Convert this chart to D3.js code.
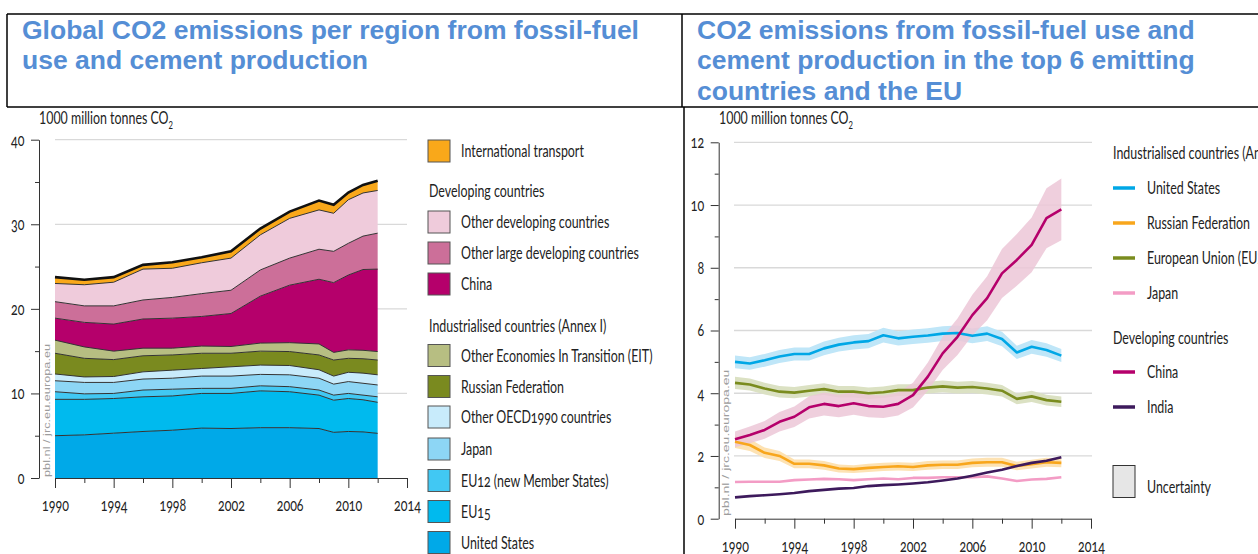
<!DOCTYPE html>
<html>
<head>
<meta charset="utf-8">
<script src="https://cdn.jsdelivr.net/npm/d3@7"></script>
<style>
body { margin: 0; background: #fff; }
svg text { font-family: Lato, "Open Sans", sans-serif; }
.num { font-variant-numeric: oldstyle-nums; }
</style>
</head>
<body>
<svg id="chart" width="1258" height="554"></svg>
<script>
// ---- left chart: stacked areas, 1000 million tonnes CO2 ----
var stackYears = [1990, 1992, 1994, 1996, 1998, 2000, 2002, 2004, 2006, 2008, 2009, 2010, 2011, 2012];
var stackKeys = ["United States", "EU15", "EU12 (new Member States)", "Japan", "Other OECD1990 countries",
    "Russian Federation", "Other Economies In Transition (EIT)", "China",
    "Other large developing countries", "Other developing countries", "International transport"];
var usArea       = [5.0, 5.1, 5.3, 5.5, 5.65, 5.9, 5.85, 5.95, 5.95, 5.85, 5.4, 5.5, 5.45, 5.28];
var eu15Area     = [4.3, 4.2, 4.1, 4.1, 4.05, 4.1, 4.15, 4.35, 4.25, 3.95, 3.8, 3.9, 3.8, 3.67];
var eu12Area     = [0.9, 0.65, 0.6, 0.8, 0.8, 0.6, 0.6, 0.6, 0.6, 0.6, 0.6, 0.6, 0.55, 0.65];
var japanArea    = [1.3, 1.35, 1.3, 1.3, 1.3, 1.45, 1.45, 1.35, 1.4, 1.4, 1.3, 1.4, 1.4, 1.4];
var oecdArea     = [0.8, 0.65, 0.7, 0.85, 0.95, 0.9, 1.1, 1.1, 1.1, 1.0, 0.95, 1.1, 1.2, 1.2];
var russiaArea   = [2.45, 2.2, 2.0, 1.9, 1.8, 1.8, 1.6, 1.65, 1.65, 1.75, 1.9, 1.65, 1.7, 1.75];
var eitArea      = [1.55, 1.35, 1.0, 0.9, 0.8, 0.85, 0.8, 0.95, 1.05, 1.3, 0.9, 1.0, 1.0, 1.0];
var chinaArea    = [2.6, 2.9, 3.2, 3.45, 3.55, 3.5, 3.9, 5.55, 6.8, 7.65, 8.25, 8.85, 9.55, 9.75];
var largeDevArea = [1.95, 1.95, 2.15, 2.25, 2.45, 2.7, 2.75, 3.1, 3.2, 3.55, 3.7, 3.75, 3.95, 4.25];
var otherDevArea = [2.15, 2.5, 2.8, 3.65, 3.45, 3.65, 3.8, 4.15, 4.7, 4.65, 4.5, 5.15, 5.1, 5.05];
var transportArea = [0.75, 0.6, 0.6, 0.5, 0.7, 0.65, 0.8, 0.75, 0.8, 1.1, 1.0, 0.85, 0.95, 1.15];
var stackSeries = [usArea, eu15Area, eu12Area, japanArea, oecdArea, russiaArea, eitArea,
    chinaArea, largeDevArea, otherDevArea, transportArea];
var stackColors = ["#00a9e8", "#00baee", "#41c8f3", "#8dd6f5", "#c8ebfb", "#7a8a1f",
    "#b7be82", "#b5006b", "#cc6f99", "#efcbdb", "#f9a81a"];

// ---- right chart: lines with uncertainty ----
var lineYears = [1990, 1991, 1992, 1993, 1994, 1995, 1996, 1997, 1998, 1999, 2000, 2001,
    2002, 2003, 2004, 2005, 2006, 2007, 2008, 2009, 2010, 2011, 2012];
var usLine     = [5.0, 4.95, 5.05, 5.17, 5.25, 5.25, 5.43, 5.55, 5.62, 5.66, 5.85, 5.75, 5.8, 5.84, 5.9, 5.92, 5.83, 5.9, 5.73, 5.3, 5.48, 5.38, 5.2];
var russiaLine = [2.45, 2.35, 2.1, 2.0, 1.75, 1.75, 1.7, 1.6, 1.58, 1.62, 1.65, 1.67, 1.65, 1.7, 1.72, 1.72, 1.78, 1.8, 1.8, 1.68, 1.74, 1.8, 1.78];
var euLine     = [4.33, 4.28, 4.15, 4.05, 4.02, 4.08, 4.13, 4.05, 4.05, 4.0, 4.03, 4.1, 4.1, 4.18, 4.22, 4.18, 4.2, 4.15, 4.08, 3.82, 3.9, 3.78, 3.73];
var japanLine  = [1.17, 1.18, 1.18, 1.18, 1.23, 1.25, 1.27, 1.26, 1.23, 1.26, 1.28, 1.26, 1.3, 1.3, 1.32, 1.32, 1.32, 1.35, 1.28, 1.2, 1.25, 1.27, 1.32];
var chinaLine  = [2.53, 2.67, 2.83, 3.09, 3.25, 3.55, 3.66, 3.59, 3.68, 3.59, 3.57, 3.66, 3.94, 4.53, 5.27, 5.8, 6.49, 7.03, 7.82, 8.25, 8.73, 9.58, 9.86];
var indiaLine  = [0.68, 0.72, 0.75, 0.78, 0.82, 0.88, 0.92, 0.96, 0.98, 1.04, 1.07, 1.09, 1.12, 1.16, 1.22, 1.28, 1.37, 1.47, 1.56, 1.68, 1.78, 1.85, 1.96];
var lineNames = ["United States", "Russian Federation", "European Union (EU27)", "Japan", "China", "India"];
var lineSeries = [usLine, russiaLine, euLine, japanLine, chinaLine, indiaLine];
var lineUncertainty = [0.04, 0.08, 0.045, 0, 0.1, 0];
var lineColors = ["#00a7e6", "#f8a61c", "#7a8c1e", "#f39cc5", "#b5006b", "#3d1a5c"];
var bandColors = ["#bfe6f8", "#fde2b3", "#dbe1c3", "none", "#ecc7d7", "none"];

var svg = d3.select("#chart");
var FS = 17, SX = 0.73;

function txt(g, x, y, s, anchor) {
    return g.append("text")
        .attr("transform", "translate(" + x + "," + y + ") scale(" + SX + ",1)")
        .attr("text-anchor", anchor || "start")
        .attr("font-size", FS)
        .attr("fill", "#222")
        .text(s);
}

function unitLabel(g, x, y) {
    var t = txt(g, x, y, "");
    t.append("tspan").text("1000 million tonnes CO");
    t.append("tspan").attr("font-size", 10.5).attr("dy", 5).text("2");
}

function watermark(g, x, y, size, sx) {
    g.append("text")
        .attr("transform", "translate(" + x + "," + y + ") rotate(-90) scale(" + sx + ",1)")
        .style("font-family", "'Liberation Sans', Arial, sans-serif")
        .attr("font-size", size)
        .attr("fill", "#9d9d9d")
        .text("pbl.nl / jrc.eu.europa.eu");
}

// style axis text so it gets the narrow look
function styleAxis(g, side) {
    g.select(".domain").attr("stroke", "#333");
    g.selectAll(".tick line").attr("stroke", "#333");
    g.selectAll(".tick text")
        .attr("class", "num")
        .attr("font-size", FS)
        .attr("fill", "#222")
        .attr("transform", "scale(" + SX + ",1)");
    if (side == "left") {
        g.selectAll(".tick text").attr("x", -14.5 / SX);
    } else {
        g.selectAll(".tick text").attr("y", 33).attr("dy", 0);
    }
}

function drawAxes(x, y, majorY, minorY, axisX, gridX0, gridX1, gridVals) {
    // grid
    svg.append("g").selectAll("line").data(gridVals).join("line")
        .attr("x1", gridX0).attr("x2", gridX1)
        .attr("y1", function(d) { return y(d); })
        .attr("y2", function(d) { return y(d); })
        .attr("stroke", "#d9d9d9").attr("stroke-width", 1.3);

    var yg = svg.append("g").attr("transform", "translate(" + axisX + ",0)")
        .call(d3.axisLeft(y).tickValues(majorY).tickSize(8).tickSizeOuter(0).tickFormat(d3.format("d")));
    styleAxis(yg, "left");
    var yg2 = svg.append("g").attr("transform", "translate(" + axisX + ",0)")
        .call(d3.axisLeft(y).tickValues(minorY).tickSize(4).tickSizeOuter(0).tickFormat(""));
    yg2.select(".domain").remove();
    yg2.selectAll(".tick line").attr("stroke", "#333");

    var xg = svg.append("g").attr("transform", "translate(0," + y(0) + ")")
        .call(d3.axisBottom(x).tickValues([1990, 1994, 1998, 2002, 2006, 2010, 2014])
            .tickSize(10).tickSizeOuter(0).tickFormat(d3.format("d")));
    styleAxis(xg, "bottom");
    var xg2 = svg.append("g").attr("transform", "translate(0," + y(0) + ")")
        .call(d3.axisBottom(x).tickValues([1992, 1996, 2000, 2004, 2008, 2012])
            .tickSize(5).tickSizeOuter(0).tickFormat(""));
    xg2.select(".domain").remove();
    xg2.selectAll(".tick line").attr("stroke", "#333");
}

// ---- frame + titles ----
var frame = svg.append("g").attr("stroke", "#000").attr("stroke-width", 1.5);
frame.append("line").attr("x1", 7).attr("x2", 1258).attr("y1", 14).attr("y2", 14);
frame.append("line").attr("x1", 7).attr("x2", 7).attr("y1", 14).attr("y2", 107);
frame.append("line").attr("x1", 7).attr("x2", 1258).attr("y1", 107).attr("y2", 107);
frame.append("line").attr("x1", 682).attr("x2", 682).attr("y1", 14).attr("y2", 107);
frame.append("line").attr("x1", 684).attr("x2", 684).attr("y1", 107).attr("y2", 554);

function title(x, lines) {
    var t = svg.append("text")
        .style("font-family", "'Liberation Sans', Arial, sans-serif")
        .attr("font-weight", "bold").attr("font-size", 26.5).attr("fill", "#558ed5");
    lines.forEach(function(l, i) {
        t.append("tspan").attr("x", x).attr("y", 39 + i * 30.3).text(l);
    });
}
title(22, ["Global CO2 emissions per region from fossil-fuel", "use and cement production"]);
title(697, ["CO2 emissions from fossil-fuel use and", "cement production in the top 6 emitting", "countries and the EU"]);

// ---- left chart ----
var xL = d3.scaleLinear().domain([1990, 2014]).range([55, 407]);
var yL = d3.scaleLinear().domain([0, 40]).range([478, 139.7]);
drawAxes(xL, yL, [0, 10, 20, 30, 40], [5, 15, 25, 35], 39, 55, 407, [10, 20, 30, 40]);

var table = stackYears.map(function(yr, i) {
    var row = { year: yr };
    stackKeys.forEach(function(k, j) { row[k] = stackSeries[j][i]; });
    return row;
});
var stacked = d3.stack().keys(stackKeys)(table);
var area = d3.area()
    .x(function(d) { return xL(d.data.year); })
    .y0(function(d) { return yL(d[0]); })
    .y1(function(d) { return yL(d[1]); });
var topLine = d3.line()
    .x(function(d) { return xL(d.data.year); })
    .y(function(d) { return yL(d[1]); });

svg.append("g").selectAll("path").data(stacked).join("path")
    .attr("d", area)
    .attr("fill", function(d, i) { return stackColors[i]; });
svg.append("g").selectAll("path").data(stacked).join("path")
    .attr("d", topLine)
    .attr("fill", "none")
    .attr("stroke", function(d, i) { return i == stacked.length - 1 ? "#111" : "#333"; })
    .attr("stroke-width", function(d, i) { return i == stacked.length - 1 ? 2.6 : 1; });

unitLabel(svg, 39, 124);
watermark(svg, 50, 477, 8.5, 1.5);

// left legend
var legL = svg.append("g");
var legRows = [
    { type: "box", key: 10, y: 151 },
    { type: "head", text: "Developing countries", y: 191 },
    { type: "box", key: 9, y: 222 },
    { type: "box", key: 8, y: 253 },
    { type: "box", key: 7, y: 284 },
    { type: "head", text: "Industrialised countries (Annex I)", y: 325.5 },
    { type: "box", key: 6, y: 355.5 },
    { type: "box", key: 5, y: 386.5 },
    { type: "box", key: 4, y: 417 },
    { type: "box", key: 3, y: 449 },
    { type: "box", key: 2, y: 480.5 },
    { type: "box", key: 1, y: 511.5 },
    { type: "box", key: 0, y: 542.5 }
];
legRows.forEach(function(r) {
    if (r.type == "head") {
        txt(legL, 429, r.y + 6, r.text);
    } else {
        legL.append("rect").attr("x", 428).attr("y", r.y - 11).attr("width", 22).attr("height", 22)
            .attr("fill", stackColors[r.key]).attr("stroke", "#555").attr("stroke-width", 1);
        txt(legL, 461, r.y + 6, stackKeys[r.key]).attr("class", "num");
    }
});

// ---- right chart ----
var xR = d3.scaleLinear().domain([1990, 2014]).range([735, 1091]);
var yR = d3.scaleLinear().domain([0, 12]).range([518.7, 142.3]);
drawAxes(xR, yR, [0, 2, 4, 6, 8, 10, 12], [1, 3, 5, 7, 9, 11], 718.7, 734, 1092, [2, 4, 6, 8, 10, 12]);

var band = d3.area()
    .x(function(d, i) { return xR(lineYears[i]); })
    .y0(function(d) { return yR(d[0]); })
    .y1(function(d) { return yR(d[1]); });
var line = d3.line()
    .x(function(d, i) { return xR(lineYears[i]); })
    .y(function(d) { return yR(d); });

var bandOrder = [0, 1, 2, 4];
bandOrder.forEach(function(j) {
    var u = lineUncertainty[j];
    svg.append("path")
        .attr("d", band(lineSeries[j].map(function(v) { return [v * (1 - u), v * (1 + u)]; })))
        .attr("fill", bandColors[j])
        .attr("fill-opacity", j == 4 ? 0.85 : 1);
});
var lineOrder = [3, 1, 2, 0, 5, 4];
lineOrder.forEach(function(j) {
    svg.append("path")
        .attr("d", line(lineSeries[j]))
        .attr("fill", "none")
        .attr("stroke", lineColors[j])
        .attr("stroke-width", 2.6)
        .attr("stroke-linejoin", "round");
});

unitLabel(svg, 719, 124);
watermark(svg, 729, 516, 8.5, 1.65);

// right legend
var legR = svg.append("g");
txt(legR, 1113, 159, "Industrialised countries (Annex I)");
var rightRows = [
    { j: 0, y: 188 }, { j: 1, y: 223 }, { j: 2, y: 258 }, { j: 3, y: 293 },
    { j: 4, y: 372 }, { j: 5, y: 407 }
];
rightRows.forEach(function(r) {
    legR.append("line").attr("x1", 1113).attr("x2", 1135).attr("y1", r.y).attr("y2", r.y)
        .attr("stroke", lineColors[r.j]).attr("stroke-width", 3.5);
    txt(legR, 1147, r.y + 6, lineNames[r.j]);
});
txt(legR, 1113, 344, "Developing countries");
legR.append("rect").attr("x", 1113).attr("y", 465.5).attr("width", 22).attr("height", 32)
    .attr("fill", "#e6e6e6").attr("stroke", "#333").attr("stroke-width", 1);
txt(legR, 1147, 492.5, "Uncertainty");
</script>
</body>
</html>
